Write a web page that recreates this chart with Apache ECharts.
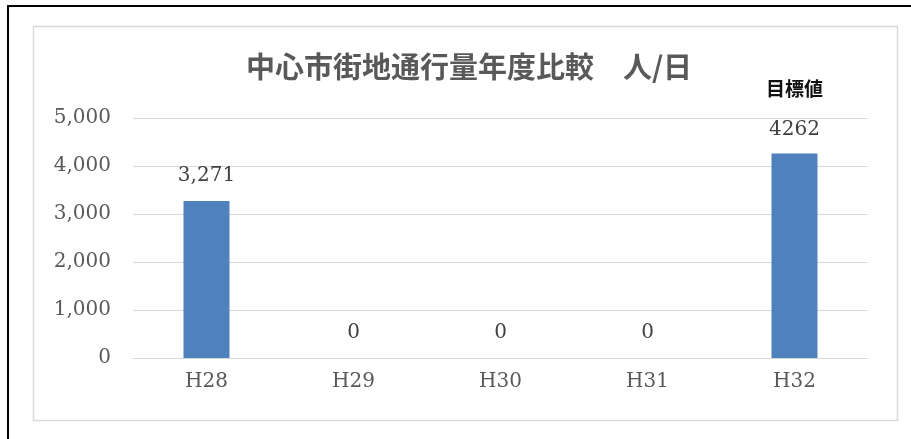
<!DOCTYPE html>
<html>
<head>
<meta charset="utf-8">
<script src="https://cdn.jsdelivr.net/npm/echarts@6/dist/echarts.min.js"></script>
<style>
  html, body { margin: 0; padding: 0; background: #fff; }
  #chart { width: 911px; height: 439px; }
</style>
</head>
<body>
<div id="chart"></div>
<script>
// 年度ごとの中心市街地通行量（人/日）
const years = ['H28', 'H29', 'H30', 'H31', 'H32'];
const traffic = [3271, 0, 0, 0, 4262];
const targetYear = 'H32';
const targetLabel = '目標値';
const chartTitle = '中心市街地通行量年度比較\u3000人/日';

const serif = '"DejaVu Serif", "Liberation Serif", serif';
const cjk = '"Noto Sans CJK JP", "Noto Sans", sans-serif';

const barData = years.map((y, i) => {
  const item = { value: traffic[i] };
  if (y === targetYear) {
    item.label = {
      formatter: (p) => '{t|' + targetLabel + '}\n{v|' + p.value + '}',
      rich: {
        t: { fontFamily: cjk, fontSize: 19, color: '#111', fontWeight: 'bold', lineHeight: 64 },
        v: { fontFamily: serif, fontSize: 20, color: '#404040', lineHeight: 18 }
      }
    };
  }
  return item;
});

const chart = echarts.init(document.getElementById('chart'));
chart.setOption({
  animation: false,
  backgroundColor: '#fff',
  title: {
    text: chartTitle,
    left: 464, top: 47, textAlign: 'center',
    textStyle: { fontFamily: cjk, fontSize: 29, fontWeight: 'bold', color: '#595959' }
  },
  grid: { left: 133, right: 43, top: 118, bottom: 81 },
  xAxis: {
    type: 'category',
    data: years,
    axisLine: { lineStyle: { color: '#d9d9d9', width: 1 } },
    axisTick: { show: false },
    axisLabel: { fontFamily: serif, fontSize: 20, color: '#595959', margin: 14 }
  },
  yAxis: {
    type: 'value',
    min: 0, max: 5000, interval: 1000,
    axisLine: { show: false },
    axisTick: { show: false },
    splitLine: { lineStyle: { color: '#d9d9d9', width: 1 } },
    axisLabel: {
      fontFamily: serif, fontSize: 20, color: '#595959', margin: 22,
      formatter: (v) => v.toLocaleString('en-US')
    }
  },
  series: [{
    type: 'bar',
    data: barData,
    barWidth: 46,
    itemStyle: { color: '#4f81bd' },
    label: {
      show: true, position: 'top', distance: 15,
      fontFamily: serif, fontSize: 20, color: '#404040',
      formatter: (p) => p.value.toLocaleString('en-US')
    }
  }],
  graphic: [
    {
      type: 'rect', silent: true, z: 0,
      shape: { x: 33.5, y: 26.5, width: 864, height: 394 },
      style: { fill: 'none', stroke: '#d9d9d9', lineWidth: 1.5 }
    },
    {
      type: 'rect', silent: true, z: 0,
      shape: { x: 8, y: 6, width: 1000, height: 1000 },
      style: { fill: 'none', stroke: '#000', lineWidth: 2 }
    }
  ]
});
</script>
</body>
</html>
